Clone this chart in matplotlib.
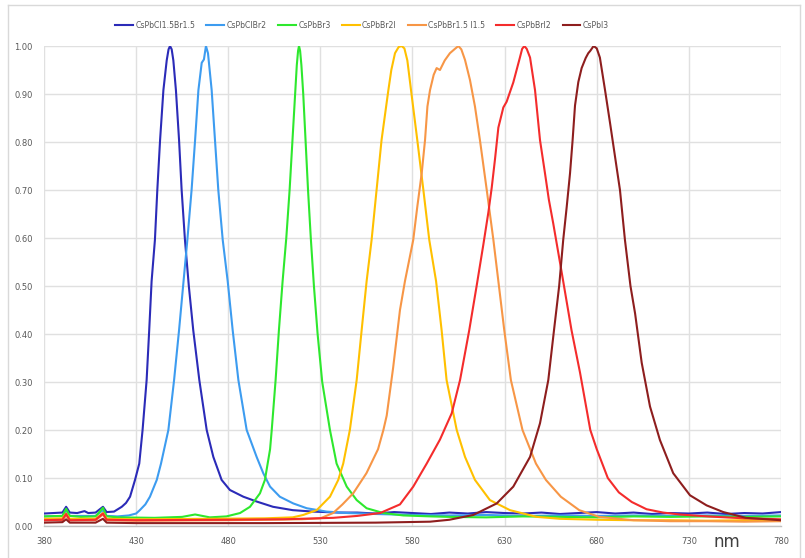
import matplotlib
matplotlib.use("Agg")
import matplotlib.pyplot as plt
from matplotlib.lines import Line2D

# ---------------- data ----------------
names = ["CsPbCl1.5Br1.5", "CsPbClBr2", "CsPbBr3", "CsPbBr2I",
         "CsPbBr1.5 I1.5", "CsPbBrI2", "CsPbI3"]
colors = ["#2b2bb8", "#3d9cf0", "#2ee82e", "#ffc000", "#f79646", "#f42c2c", "#8e1e1e"]

wl_cl15 = [380, 385, 390, 392, 394, 398, 402, 404, 408, 412, 414, 418, 422.2, 424.5, 426.7, 429.4, 431.7,
           433.5, 435.7, 437.1, 438.4, 440.2, 441.5, 443, 444.8, 446.6, 447.6, 448.4, 449.3, 450.2,
           451.6, 453.3, 454.7, 456.5, 458.6, 461, 464.3, 468.3, 471.9, 476.4, 480.9, 488.2, 495.4,
           504.3, 515, 526, 540, 550, 560, 570, 580, 590, 600, 610, 620, 630, 640, 650, 660, 670, 680,
           690, 700, 710, 720, 730, 740, 750, 760, 770, 780]
int_cl15 = [0.026, 0.027, 0.028, 0.040, 0.028, 0.027, 0.031, 0.027, 0.028, 0.040, 0.029, 0.030, 0.040,
            0.048, 0.061, 0.096, 0.130, 0.200, 0.304, 0.408, 0.510, 0.596, 0.700, 0.804, 0.908, 0.970,
            0.993, 1.000, 0.993, 0.970, 0.908, 0.804, 0.700, 0.596, 0.500, 0.408, 0.304, 0.200, 0.144,
            0.096, 0.075, 0.061, 0.051, 0.040, 0.033, 0.030, 0.028, 0.028, 0.026, 0.029, 0.027, 0.025,
            0.028, 0.026, 0.029, 0.027, 0.026, 0.028, 0.025, 0.027, 0.029, 0.026, 0.028, 0.025, 0.027,
            0.026, 0.028, 0.025, 0.027, 0.026, 0.029]

wl_clbr2 = [380, 390, 392, 394, 408, 412, 414, 420, 426, 430, 432, 435, 437.5, 441.2, 443.5, 445.5,
            447.5, 450.6, 453.3, 455.5, 457.8, 460.1, 462, 463.8, 465.6, 466.8, 467.9, 469, 471, 472.8,
            474.6, 477, 479.7, 482.4, 485.5, 490, 495.4, 499, 502.7, 508, 515.3, 522.6, 533.4, 545, 560,
            580, 600, 620, 640, 660, 680, 700, 720, 740, 760, 780]
int_clbr2 = [0.020, 0.021, 0.032, 0.021, 0.021, 0.033, 0.021, 0.020, 0.022, 0.026, 0.033, 0.045, 0.061,
             0.096, 0.130, 0.165, 0.200, 0.304, 0.408, 0.500, 0.596, 0.700, 0.804, 0.908, 0.965, 0.972,
             1.000, 0.985, 0.908, 0.804, 0.700, 0.596, 0.510, 0.408, 0.304, 0.200, 0.144, 0.110, 0.082,
             0.061, 0.047, 0.037, 0.030, 0.027, 0.025, 0.023, 0.022, 0.023, 0.021, 0.022, 0.021, 0.022,
             0.021, 0.022, 0.021, 0.022]

wl_br3 = [380, 390, 392, 394, 400, 408, 412, 414, 420, 440, 455, 462, 470, 479, 486.4, 491.8, 497.2,
          499.9, 502.7, 503.6, 505.7, 507.5, 509.5, 511.5, 513.3, 514.8, 516.3, 517.2, 517.9, 518.4,
          519, 519.7, 520.7, 522, 523.3, 524.8, 526.5, 528.5, 531, 535.2, 538.8, 544.3, 549.7, 555.1,
          564.2, 575, 590, 600, 620, 640, 660, 680, 700, 720, 740, 760, 780]
int_br3 = [0.020, 0.021, 0.036, 0.021, 0.019, 0.020, 0.038, 0.020, 0.018, 0.017, 0.019, 0.024, 0.018,
           0.020, 0.027, 0.040, 0.068, 0.096, 0.160, 0.200, 0.304, 0.408, 0.510, 0.600, 0.700, 0.800,
           0.900, 0.960, 0.990, 1.000, 0.990, 0.960, 0.900, 0.800, 0.700, 0.600, 0.500, 0.400, 0.300,
           0.200, 0.130, 0.082, 0.054, 0.037, 0.027, 0.022, 0.020, 0.019, 0.018, 0.020, 0.019, 0.018,
           0.020, 0.019, 0.020, 0.019, 0.020]

wl_br2i = [380, 390, 392, 394, 408, 412, 414, 430, 470, 500, 515, 520.7, 528, 535.2, 539.7, 542.4, 546,
           549.7, 552.4, 555.1, 557.8, 560.5, 563.2, 566.9, 568.5, 570.5, 572.5, 574.1, 575.6, 577.2,
           579.2, 582.6, 585.9, 589.1, 592.8, 595.8, 598.5, 604, 608.5, 613.9, 622, 632.9, 647.4, 660,
           680, 700, 720, 740, 760, 780]
int_br2i = [0.015, 0.016, 0.026, 0.015, 0.015, 0.027, 0.015, 0.014, 0.015, 0.016, 0.018, 0.023, 0.033,
            0.061, 0.096, 0.130, 0.200, 0.304, 0.408, 0.510, 0.596, 0.700, 0.804, 0.908, 0.950, 0.985,
            0.998, 1.000, 0.995, 0.970, 0.908, 0.804, 0.700, 0.596, 0.510, 0.408, 0.304, 0.200, 0.144,
            0.096, 0.054, 0.033, 0.019, 0.015, 0.013, 0.012, 0.012, 0.011, 0.012, 0.011]

wl_br15i15 = [380, 390, 392, 394, 408, 412, 414, 430, 480, 520, 530, 536.9, 542, 547.8, 555, 561.3,
              564.2, 566, 569.5, 573.2, 575.9, 580.4, 582.6, 585, 586.8, 588.1, 589.5, 591.5, 593.1,
              594.9, 597.5, 600.3, 603, 604.9, 606.5, 607.5, 608.5, 611.2, 613.9, 616.6, 620.3, 623.9,
              626.6, 629.8, 633.4, 639.7, 647, 652.4, 660.5, 670.5, 681.3, 700, 720, 740, 760, 780]
int_br15i15 = [0.012, 0.013, 0.022, 0.012, 0.012, 0.024, 0.012, 0.011, 0.012, 0.014, 0.016, 0.027,
               0.045, 0.068, 0.110, 0.160, 0.200, 0.230, 0.330, 0.450, 0.510, 0.596, 0.665, 0.735,
               0.804, 0.874, 0.908, 0.940, 0.954, 0.950, 0.970, 0.985, 0.994, 1.000, 0.993, 0.982,
               0.971, 0.929, 0.874, 0.804, 0.700, 0.596, 0.510, 0.408, 0.304, 0.200, 0.130, 0.096,
               0.061, 0.033, 0.019, 0.012, 0.010, 0.010, 0.009, 0.010]

wl_bri2 = [380, 390, 392, 394, 408, 412, 414, 430, 480, 510, 536.9, 550, 562.4, 573.2, 580.4, 587.7,
           594.9, 601.3, 605.8, 610.8, 614.8, 618.4, 621.2, 623, 624.8, 626.6, 629.3, 631.1, 634.7,
           638.3, 639.5, 640.7, 642, 643.8, 646.5, 649.2, 651.9, 654, 656.4, 660.9, 666.3, 670.9, 676.5,
           680, 686, 692, 699, 707, 716, 725, 740, 760, 780]
int_bri2 = [0.012, 0.013, 0.025, 0.012, 0.013, 0.026, 0.013, 0.012, 0.013, 0.014, 0.017, 0.021, 0.027,
            0.045, 0.082, 0.130, 0.180, 0.235, 0.304, 0.408, 0.500, 0.585, 0.654, 0.705, 0.765, 0.830,
            0.872, 0.884, 0.924, 0.976, 0.994, 1.000, 0.994, 0.976, 0.908, 0.804, 0.735, 0.680, 0.630,
            0.530, 0.408, 0.320, 0.200, 0.160, 0.100, 0.070, 0.050, 0.035, 0.028, 0.024, 0.020, 0.016,
            0.014]

wl_i3 = [380, 390, 392, 394, 408, 412, 414, 430, 500, 560, 589.5, 600, 613, 625.7, 634.7, 643.8, 649.2,
         653.7, 656.8, 659.6, 661.8, 663.7, 665.5, 666.9, 668.2, 670, 671.8, 674, 675.4, 676.5, 678.3,
         680, 681.7, 684.5, 687.2, 689.9, 692.6, 695.3, 698.3, 700.8, 704.4, 708.9, 714.3, 721.5, 730.6,
         739.6, 748.7, 761, 780]
int_i3 = [0.007, 0.008, 0.014, 0.007, 0.007, 0.015, 0.007, 0.006, 0.006, 0.007, 0.009, 0.013, 0.023,
          0.047, 0.082, 0.144, 0.214, 0.304, 0.408, 0.500, 0.596, 0.665, 0.735, 0.804, 0.876, 0.925,
          0.954, 0.975, 0.985, 0.990, 1.000, 0.995, 0.976, 0.908, 0.840, 0.770, 0.700, 0.596, 0.500,
          0.443, 0.340, 0.249, 0.179, 0.110, 0.064, 0.043, 0.029, 0.017, 0.012]

series_x = [wl_cl15, wl_clbr2, wl_br3, wl_br2i, wl_br15i15, wl_bri2, wl_i3]
series_y = [int_cl15, int_clbr2, int_br3, int_br2i, int_br15i15, int_bri2, int_i3]

x_ticks = [380, 430, 480, 530, 580, 630, 680, 730, 780]
y_ticks = [0.0, 0.1, 0.2, 0.3, 0.4, 0.5, 0.6, 0.7, 0.8, 0.9, 1.0]

# ---------------- figure ----------------
W, H = 805, 558
fig = plt.figure(figsize=(W / 100, H / 100), dpi=100)
fig.patch.set_facecolor("white")

# outer chart border
for xs, ys in [([8, 8], [558, 5]), ([8, 800], [5, 5]), ([800, 800], [5, 558])]:
    fig.add_artist(Line2D([v / W for v in xs], [1 - v / H for v in ys],
                          transform=fig.transFigure, color="#d9d9d9", lw=1.0))

left, right, top, bottom = 44, 781, 46, 526
ax = fig.add_axes([left / W, 1 - bottom / H, (right - left) / W, (bottom - top) / H])

for xs, ys, c, n in zip(series_x, series_y, colors, names):
    ax.plot(xs, ys, color=c, lw=1.5, label=n, solid_joinstyle="round")

ax.set_xlim(380, 780)
ax.set_ylim(0, 1.0)
ax.set_xticks(x_ticks)
ax.set_yticks(y_ticks)
ax.set_xticklabels([str(v) for v in x_ticks])
ax.set_yticklabels([f"{v:.2f}" for v in y_ticks])
ax.tick_params(axis="both", length=0, labelsize=6, colors="#595959", pad=8)
ax.grid(True, color="#e0e0e0", lw=1.0)
ax.set_axisbelow(True)
for s in ["top", "right", "left"]:
    ax.spines[s].set_visible(False)
ax.spines["bottom"].set_color("#bfbfbf")
ax.spines["bottom"].set_linewidth(1.0)

fig.text(727 / W, 1 - 542 / H, "nm", ha="center", va="center", fontsize=12, color="#404040")

handles, labels = ax.get_legend_handles_labels()
fig.legend(handles, labels, loc="center", bbox_to_anchor=(362 / W, 1 - 25 / H), ncol=7,
           frameon=False, fontsize=5.6, handlelength=2.3, handletextpad=0.3,
           columnspacing=1.45, labelcolor="#595959")

fig.savefig("out.png", dpi=100, facecolor="white")
